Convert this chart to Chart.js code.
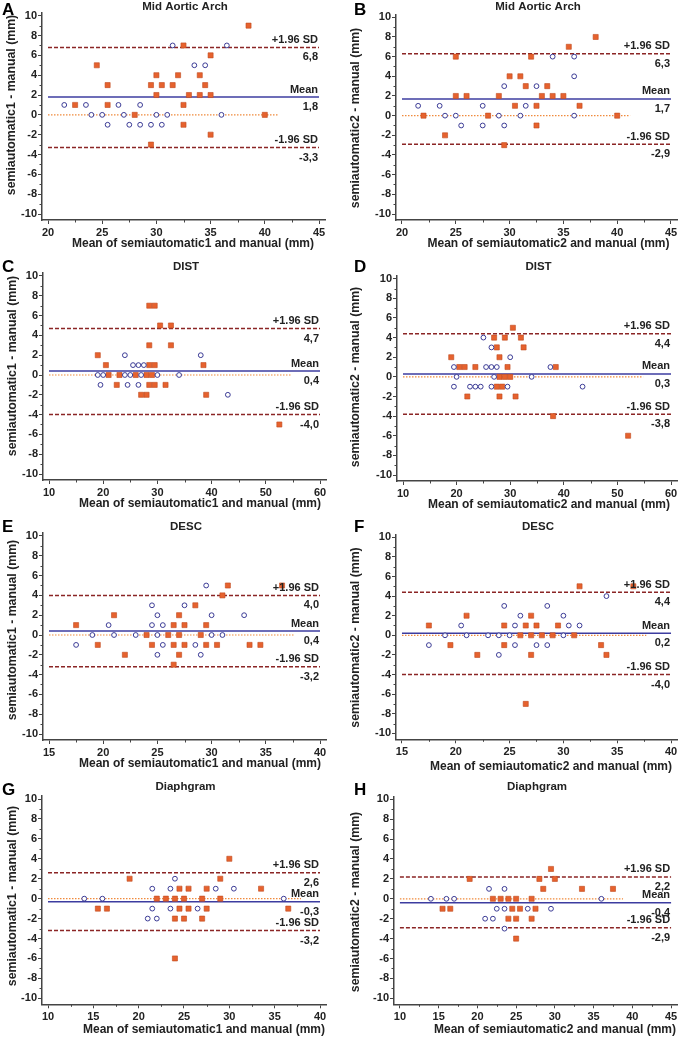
<!DOCTYPE html>
<html>
<head>
<meta charset="utf-8">
<script src="https://cdn.jsdelivr.net/npm/chart.js@4.4.1/dist/chart.umd.min.js"></script>
<style>
  body { margin: 0; background: #fff; }
  #wrap { position: relative; width: 682px; height: 1040px; }
  .panel { position: absolute; width: 341px; height: 260px; }
</style>
</head>
<body>
<div id="wrap">
  <div class="panel" style="left:0;top:0"><canvas id="pA" width="341" height="260"></canvas></div>
  <div class="panel" style="left:341px;top:0"><canvas id="pB" width="341" height="260"></canvas></div>
  <div class="panel" style="left:0;top:260px"><canvas id="pC" width="341" height="260"></canvas></div>
  <div class="panel" style="left:341px;top:260px"><canvas id="pD" width="341" height="260"></canvas></div>
  <div class="panel" style="left:0;top:520px"><canvas id="pE" width="341" height="260"></canvas></div>
  <div class="panel" style="left:341px;top:520px"><canvas id="pF" width="341" height="260"></canvas></div>
  <div class="panel" style="left:0;top:780px"><canvas id="pG" width="341" height="260"></canvas></div>
  <div class="panel" style="left:341px;top:780px"><canvas id="pH" width="341" height="260"></canvas></div>
</div>
<script>
// ---- datos: [media, diferencia] ----
var aCircles = [[21.5,1],[23.5,1],[24,0],[25,0],[25.5,-1],[26.5,1],[27,0],[27.5,-1],[28.5,1],[28.5,-1],[29.5,-1],[30,0],[30.5,-1],[31,0],[31.5,7],[33.5,5],[34.5,5],[36,0],[36.5,7]];
var aSquares = [[22.5,1],[24.5,5],[25.5,3],[25.5,1],[28,0],[29.5,3],[29.5,-3],[30,4],[30,2],[30.5,3],[31.5,3],[32,4],[32.5,7],[32.5,1],[32.5,-1],[33,2],[34,4],[34,2],[34.5,3],[35,6],[35,2],[35,-2],[38.5,9],[40,0]];
var aStats = [1.8, 6.8, -3.3]; // media, +1.96 SD, -1.96 SD

var bCircles = [[21.5,1],[23.5,1],[24,0],[25,0],[25.5,-1],[27.5,1],[27.5,-1],[29,0],[29.5,3],[29.5,-1],[31,0],[31.5,1],[32.5,3],[34,6],[36,6],[36,4],[36,0]];
var bSquares = [[22,0],[24,-2],[25,6],[25,2],[26,2],[28,0],[29,2],[29.5,-3],[30,4],[30.5,1],[31,4],[31.5,3],[32,6],[32.5,1],[32.5,-1],[33,2],[33.5,3],[34,2],[35,2],[35.5,7],[36.5,1],[38,8],[40,0]];
var bStats = [1.7, 6.3, -2.9];

var cCircles = [[19,0],[19.5,-1],[20,0],[24,2],[24,0],[24.5,-1],[25,0],[25.5,1],[26.5,1],[26.5,-1],[27,0],[27.5,1],[30,0],[34,0],[38,2],[43,-2]];
var cSquares = [[19,2],[20.5,1],[21,0],[22.5,-1],[23,0],[26,0],[27,-2],[28,0],[28,-2],[28.5,7],[28.5,3],[28.5,1],[28.5,-1],[29,0],[29.5,7],[29.5,1],[29.5,-1],[30.5,5],[31.5,-1],[32.5,5],[32.5,3],[38.5,1],[39,-2],[52.5,-5]];
var cStats = [0.4, 4.7, -4.0];

var dCircles = [[19.5,1],[19.5,-1],[20,0],[22.5,-1],[23.5,-1],[24.5,-1],[25,4],[25.5,1],[26.5,3],[26.5,1],[26.5,-1],[27,0],[27.5,1],[29.5,-1],[30,2],[34,0],[37.5,1],[43.5,-1]];
var dSquares = [[19,2],[20.5,1],[21.5,1],[22,-2],[23.5,1],[27,4],[27.5,3],[27.5,-1],[28,2],[28,0],[28,-2],[28.5,-1],[29,4],[29,0],[29.5,1],[30,0],[30.5,5],[31,-2],[32,4],[32.5,3],[38,-4],[38.5,1],[52,-6]];
var dStats = [0.3, 4.4, -3.8];

var eCircles = [[17.5,-1],[19,0],[20.5,1],[21,0],[23,0],[24.5,3],[24.5,1],[25,2],[25,0],[25,-2],[25.5,1],[25.5,-1],[27.5,3],[28.5,-1],[29,-2],[29.5,5],[30,2],[30,0],[31,0],[33,2]];
var eSquares = [[17.5,1],[19.5,-1],[21,2],[22,-2],[24,0],[24.5,-1],[26,0],[26.5,1],[26.5,-1],[26.5,-3],[27,2],[27,0],[27,-2],[27.5,1],[27.5,-1],[28.5,3],[29,0],[29.5,1],[29.5,-1],[30.5,-1],[31,4],[31.5,5],[33.5,-1],[34.5,-1],[36.5,5]];
var eStats = [0.4, 4.0, -3.2];

var fCircles = [[17.5,-1],[19,0],[20.5,1],[21,0],[23,0],[24,0],[24,-2],[24.5,3],[25,0],[25.5,1],[25.5,-1],[26,2],[27.5,-1],[28.5,3],[28.5,-1],[30,2],[30,0],[30.5,1],[31.5,1],[34,4]];
var fSquares = [[17.5,1],[19.5,-1],[21,2],[22,-2],[24.5,1],[24.5,-1],[26,0],[26.5,1],[26.5,-7],[27,2],[27,0],[27,-2],[27.5,1],[28,0],[29,0],[29.5,1],[31,0],[31.5,5],[33.5,-1],[34,-2],[36.5,5]];
var fStats = [0.2, 4.4, -4.0];

var gCircles = [[14,0],[16,0],[21,-2],[21.5,1],[21.5,-1],[22,-2],[23.5,1],[23.5,-1],[24,2],[26.5,-1],[28.5,1],[30.5,1],[36,0]];
var gSquares = [[15.5,-1],[16.5,-1],[19,2],[22,0],[23,0],[24,0],[24,-2],[24,-6],[24.5,1],[24.5,-1],[25,0],[25,-2],[25.5,1],[25.5,-1],[27,0],[27,-2],[27.5,1],[27.5,-1],[29,2],[29,0],[30,4],[33.5,1],[36.5,-1]];
var gStats = [-0.3, 2.6, -3.2];

var hCircles = [[14,0],[16,0],[17,0],[21,-2],[21.5,1],[22,-2],[22.5,-1],[23.5,1],[23.5,-1],[23.5,-3],[26.5,-1],[29.5,-1],[36,0]];
var hSquares = [[15.5,-1],[16.5,-1],[19,2],[22,0],[23,0],[24,0],[24,-2],[24.5,-1],[25,0],[25,-2],[25,-4],[25.5,-1],[27,0],[27,-2],[27.5,-1],[28,2],[28.5,1],[29.5,3],[30,2],[33.5,1],[37.5,1]];
var hStats = [-0.4, 2.2, -2.9];

// donde termina la linea punteada del cero, por panel
var zeroEnd = [41.2, 41.2, 54.7, 54.8, 37.6, 37.7, 37.9, 38.8];

// ticks
var xTicksA = [20, 25, 30, 35, 40, 45];
var xTicksC = [10, 20, 30, 40, 50, 60];
var xTicksE = [15, 20, 25, 30, 35, 40];
var xTicksG = [10, 15, 20, 25, 30, 35, 40];
var xTicksH = [10, 15, 20, 25, 30, 35, 40, 45];
var yTicks = [-10, -8, -6, -4, -2, 0, 2, 4, 6, 8, 10];

var statNames = ['Mean', '+1.96 SD', '-1.96 SD'];
var panelTitles = ['Mid Aortic Arch', 'Mid Aortic Arch', 'DIST', 'DIST', 'DESC', 'DESC', 'Diaphgram', 'Diaphgram'];
var letters = ['A', 'B', 'C', 'D', 'E', 'F', 'G', 'H'];
var xTitles = ['Mean of semiautomatic1 and manual (mm)', 'Mean of semiautomatic2 and manual (mm)'];
var yTitles = ['semiautomatic1 - manual (mm)', 'semiautomatic2 - manual (mm)'];

var FONT = '"Liberation Sans", Arial, sans-serif';

// geometria de cada panel: [izq, der, arriba, abajo] del area, titulo x (cx, cy), titulo y (cx, cy), letra (x, y)
var panels = [
  { id: 'pA', c: aCircles, s: aSquares, st: aStats, xt: xTicksA, g: [42, 325, 12.7, 220], xT: [193, 244], yT: [11.7, 105], L: [2, 15] },
  { id: 'pB', c: bCircles, s: bSquares, st: bStats, xt: xTicksA, g: [55, 336, 14.3, 220], xT: [207.5, 244], yT: [15, 118], L: [13, 15] },
  { id: 'pC', c: cCircles, s: cSquares, st: cStats, xt: xTicksC, g: [43, 326, 13, 220], xT: [200, 244], yT: [12.7, 106], L: [2, 12] },
  { id: 'pD', c: dCircles, s: dSquares, st: dStats, xt: xTicksC, g: [56, 336, 15.7, 221], xT: [208, 245], yT: [15, 117], L: [13, 12] },
  { id: 'pE', c: eCircles, s: eSquares, st: eStats, xt: xTicksE, g: [43, 326, 13, 220], xT: [200, 244], yT: [12.7, 110], L: [2, 12] },
  { id: 'pF', c: fCircles, s: fSquares, st: fStats, xt: xTicksE, g: [55, 337, 14.3, 219.3], xT: [210, 247], yT: [15, 117.5], L: [13, 12] },
  { id: 'pG', c: gCircles, s: gSquares, st: gStats, xt: xTicksG, g: [42, 326, 16, 224.3], xT: [204, 250], yT: [12.7, 116], L: [2, 15] },
  { id: 'pH', c: hCircles, s: hSquares, st: hStats, xt: xTicksH, g: [53, 340, 16.3, 224.3], xT: [214, 250], yT: [15, 122], L: [13, 15] }
];

function fmt(v) {
  return v.toFixed(1).replace('.', ',');
}

// etiquetas, ticks menores y titulos
var blandPlugin = {
  id: 'bland',
  afterDraw: function (chart, args, o) {
    var ctx = chart.ctx, xs = chart.scales.x, ys = chart.scales.y, a = chart.chartArea;
    ctx.save();
    ctx.strokeStyle = '#444';
    ctx.lineWidth = 1;
    // ticks menores eje y
    for (var i = 0; i < yTicks.length - 1; i++) {
      var py = Math.round(ys.getPixelForValue((yTicks[i] + yTicks[i + 1]) / 2)) + 0.5;
      ctx.beginPath(); ctx.moveTo(a.left - 2.5, py); ctx.lineTo(a.left, py); ctx.stroke();
    }
    // ticks menores eje x
    for (var j = 0; j < o.xt.length - 1; j++) {
      var px = Math.round(xs.getPixelForValue((o.xt[j] + o.xt[j + 1]) / 2)) + 0.5;
      ctx.beginPath(); ctx.moveTo(px, a.bottom); ctx.lineTo(px, a.bottom + 2.5); ctx.stroke();
    }
    // etiquetas de media y limites
    ctx.fillStyle = '#222';
    ctx.font = 'bold 11px ' + FONT;
    ctx.textAlign = 'right';
    ctx.textBaseline = 'middle';
    var rx = xs.getPixelForValue(o.xt[o.xt.length - 1]) - 1;
    for (var k = 0; k < 3; k++) {
      var ly = ys.getPixelForValue(o.st[k]);
      ctx.fillText(statNames[k], rx, ly - 7.5);
      ctx.fillText(fmt(o.st[k]), rx, ly + 10);
    }
    // titulo del panel
    ctx.textAlign = 'center';
    ctx.font = 'bold 11.5px ' + FONT;
    ctx.fillText(o.title, (a.left + a.right) / 2 + 1.5, 7);
    // titulo eje x
    ctx.font = 'bold 12px ' + FONT;
    ctx.fillText(o.xTitle, o.xT[0], o.xT[1]);
    // titulo eje y
    ctx.save();
    ctx.translate(o.yT[0], o.yT[1]);
    ctx.rotate(-Math.PI / 2);
    ctx.font = 'bold 12.3px ' + FONT;
    ctx.fillText(o.yTitle, 0, 0);
    ctx.restore();
    // letra
    ctx.textAlign = 'left';
    ctx.textBaseline = 'alphabetic';
    ctx.fillStyle = '#000';
    ctx.font = 'bold 17px ' + FONT;
    ctx.fillText(o.letter, o.L[0], o.L[1]);
    ctx.restore();
  }
};

function toPts(arr) {
  return arr.map(function (p) { return { x: p[0], y: p[1] }; });
}

function refLine(x0, x1, y, color, width, dash) {
  return {
    data: [{ x: x0, y: y }, { x: x1, y: y }],
    showLine: true, fill: false, pointRadius: 0,
    borderColor: color, borderWidth: width, borderDash: dash
  };
}

panels.forEach(function (p, n) {
  var g = p.g;
  var x0 = p.xt[0], x1 = p.xt[p.xt.length - 1];
  var upx = (x1 - x0) / (g[1] - g[0] - 12);
  var upy = 20 / (g[3] - g[2] - 9);
  var col = n % 2;

  new Chart(document.getElementById(p.id).getContext('2d'), {
    type: 'scatter',
    data: {
      datasets: [
        {
          data: toPts(p.c), pointStyle: 'circle', pointRadius: 2.4,
          pointBorderWidth: 1, pointBorderColor: '#3b3b95', pointBackgroundColor: '#fff'
        },
        {
          data: toPts(p.s), pointStyle: 'rect', pointRadius: 3.6,
          pointBorderWidth: 0.6, pointBorderColor: '#c04a1e', pointBackgroundColor: '#e6622e'
        },
        refLine(x0, zeroEnd[n], 0, '#f08a3c', 1.2, [1.5, 1.5]),
        refLine(x0, x1, p.st[0], '#3c3ca0', 1.5, []),
        refLine(x0, x1, p.st[1], '#8b2525', 1.5, [4, 2]),
        refLine(x0, x1, p.st[2], '#8b2525', 1.5, [4, 2])
      ]
    },
    options: {
      responsive: false,
      animation: false,
      events: [],
      layout: { padding: { left: 0, top: g[2], right: 341 - g[1], bottom: 0 } },
      plugins: {
        legend: { display: false },
        tooltip: { enabled: false },
        bland: {
          st: p.st, xt: p.xt, xT: p.xT, yT: p.yT, L: p.L,
          title: panelTitles[n], letter: letters[n],
          xTitle: xTitles[col], yTitle: yTitles[col]
        }
      },
      scales: {
        x: {
          type: 'linear',
          min: x0 - 6 * upx,
          max: x1 + 6 * upx,
          afterBuildTicks: function (ax) { ax.ticks = p.xt.map(function (v) { return { value: v }; }); },
          afterFit: function (s) { s.height = 260 - g[3]; },
          grid: { drawOnChartArea: false, drawTicks: true, tickLength: 4, tickColor: '#444', tickWidth: 1 },
          border: { color: '#444', width: 1.5 },
          ticks: { color: '#222', padding: 2, maxRotation: 0, font: { family: FONT, size: 11, weight: 'bold' },
                   callback: function (v) { return String(v); } }
        },
        y: {
          min: -10 - 6 * upy,
          max: 10 + 3 * upy,
          afterBuildTicks: function (ax) { ax.ticks = yTicks.map(function (v) { return { value: v }; }); },
          afterFit: function (s) { s.width = g[0]; },
          grid: { drawOnChartArea: false, drawTicks: true, tickLength: 4, tickColor: '#444', tickWidth: 1 },
          border: { color: '#444', width: 1.5 },
          ticks: { color: '#222', padding: 1, font: { family: FONT, size: 11, weight: 'bold' },
                   callback: function (v) { return String(v); } }
        }
      }
    },
    plugins: [blandPlugin]
  });
});
</script>
</body>
</html>
